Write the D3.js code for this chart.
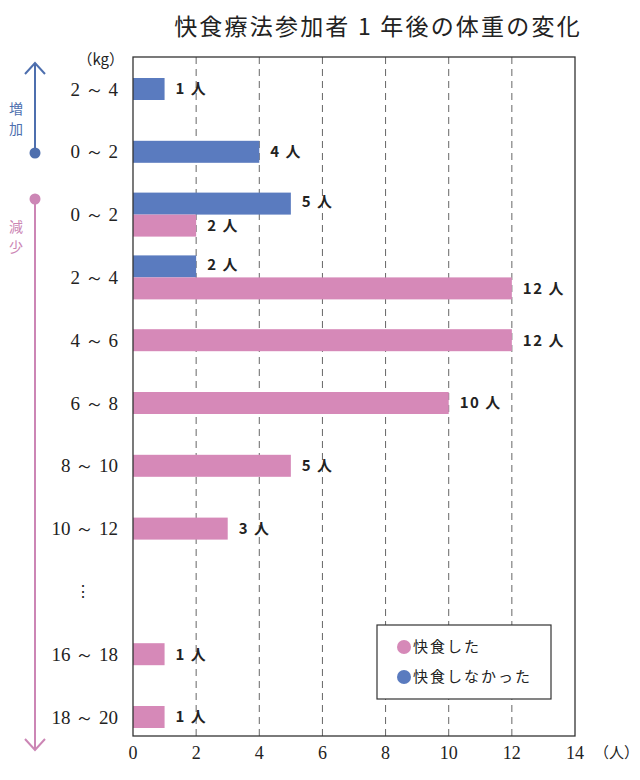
<!DOCTYPE html>
<html><head><meta charset="utf-8">
<script src="https://cdn.jsdelivr.net/npm/d3@7"></script>
<style>body{margin:0;background:#fff}</style>
</head><body>
<script>
const title = "快食療法参加者 1 年後の体重の変化";
const rowLabels = ["2～4","0～2","0～2","2～4","4～6","6～8","8～10","10～12","⋮","16～18","18～20"];
const fastedValues = [null,null,2,12,12,10,5,3,null,1,1];
const notFastedValues = [1,4,5,2,null,null,null,null,null,null,null];
const xTicks = [0,2,4,6,8,10,12,14];
const seriesNames = ["快食した","快食しなかった"];
const colors = {fasted:"#d689b8", notFasted:"#5a7bbf"};

const W=640,H=780;
const svg=d3.select("body").append("svg").attr("width",W).attr("height",H);
const pL=133,pR=575,pT=57,pB=736;
const jp="'Noto Sans CJK JP', sans-serif";
const serif="'Liberation Serif','DejaVu Serif', serif";

const x=d3.scaleLinear().domain([0,14]).range([pL,pR]);
const y=d3.scalePoint().domain(d3.range(rowLabels.length)).range([89,717]);
const bh=22;

// title
svg.append("text").attr("x",378).attr("y",35).attr("text-anchor","middle")
  .attr("font-family",jp).attr("font-size",23).attr("fill","#222").attr("letter-spacing",2.2).text(title);

// grid
svg.append("g").selectAll("line").data(xTicks.filter(t=>t>0&&t<14)).join("line")
  .attr("x1",d=>x(d)).attr("x2",d=>x(d)).attr("y1",pT).attr("y2",pB)
  .attr("stroke","#666").attr("stroke-width",1).attr("stroke-dasharray","7,5");

// bars
const bars=svg.append("g");
function lbl(v,yc){
  svg.append("text").attr("x",x(v)+11).attr("y",yc).attr("dy","0.36em")
    .attr("font-family",jp).attr("font-weight","bold").attr("font-size",15).attr("letter-spacing",1.5).attr("fill","#222").text(v+" 人");
}
rowLabels.forEach((lab,i)=>{
  const f=fastedValues[i], n=notFastedValues[i];
  const both = f!=null && n!=null;
  if(n!=null){
    const y0 = both ? y(i)-bh : y(i)-bh/2;
    bars.append("rect").attr("x",x(0)).attr("y",y0).attr("width",x(n)-x(0)).attr("height",bh).attr("fill",colors.notFasted);
    lbl(n,y0+bh/2-(both?2:0));
  }
  if(f!=null){
    const y0 = both ? y(i) : y(i)-bh/2;
    bars.append("rect").attr("x",x(0)).attr("y",y0).attr("width",x(f)-x(0)).attr("height",bh).attr("fill",colors.fasted);
    lbl(f,y0+bh/2);
  }
});

// frame
svg.append("rect").attr("x",pL).attr("y",pT).attr("width",pR-pL).attr("height",pB-pT)
  .attr("fill","none").attr("stroke","#333").attr("stroke-width",1.3);

// row labels
svg.append("g").selectAll("text").data(rowLabels).join("text")
  .attr("x",(d)=>d==="⋮"?83:118).attr("y",(d,i)=>y(i)).attr("dy","0.35em")
  .attr("text-anchor",d=>d==="⋮"?"middle":"end")
  .attr("font-family",d=>d==="⋮"?jp:serif).attr("font-size",d=>d==="⋮"?16:19).attr("fill","#222")
  .text(d=>d.replace("～"," ～ "));

// x tick labels
svg.append("g").selectAll("text").data(xTicks).join("text")
  .attr("x",d=>x(d)).attr("y",759).attr("text-anchor","middle")
  .attr("font-family",serif).attr("font-size",18).attr("fill","#222").text(d=>d);
svg.append("text").attr("x",x(14)+19).attr("y",758).attr("font-family",jp).attr("font-size",15).attr("fill","#222").text("（人）");
svg.append("text").attr("x",124).attr("y",65).attr("text-anchor","end").attr("font-family",jp).attr("font-size",15).attr("fill","#222").text("（kg）");

// left arrows
const blueA="#4e6fae", pinkA="#cc86b5";
svg.append("line").attr("x1",35).attr("x2",35).attr("y1",64).attr("y2",153).attr("stroke",blueA).attr("stroke-width",2);
svg.append("path").attr("d","M25,74 L35,63 L45,74").attr("fill","none").attr("stroke",blueA).attr("stroke-width",2);
svg.append("circle").attr("cx",35).attr("cy",153).attr("r",5.5).attr("fill",blueA);
svg.append("text").attr("x",16).attr("y",114).attr("text-anchor","middle").attr("font-family",jp).attr("font-size",14).attr("fill",blueA).text("増");
svg.append("text").attr("x",16).attr("y",134).attr("text-anchor","middle").attr("font-family",jp).attr("font-size",14).attr("fill",blueA).text("加");

svg.append("line").attr("x1",35).attr("x2",35).attr("y1",199).attr("y2",749).attr("stroke",pinkA).attr("stroke-width",2);
svg.append("path").attr("d","M25,739 L35,750 L45,739").attr("fill","none").attr("stroke",pinkA).attr("stroke-width",2);
svg.append("circle").attr("cx",35).attr("cy",199).attr("r",5.5).attr("fill",pinkA);
svg.append("text").attr("x",16).attr("y",232).attr("text-anchor","middle").attr("font-family",jp).attr("font-size",14).attr("fill",pinkA).text("減");
svg.append("text").attr("x",16).attr("y",252).attr("text-anchor","middle").attr("font-family",jp).attr("font-size",14).attr("fill",pinkA).text("少");

// legend
const lg=svg.append("g");
lg.append("rect").attr("x",377).attr("y",625).attr("width",174).attr("height",74).attr("fill","#fff").attr("stroke","#333").attr("stroke-width",1.2);
[[seriesNames[0],colors.fasted],[seriesNames[1],colors.notFasted]].forEach((s,i)=>{
  const cy=647+i*30;
  lg.append("circle").attr("cx",404).attr("cy",cy).attr("r",7).attr("fill",s[1]);
  lg.append("text").attr("x",413).attr("y",cy).attr("dy","0.36em").attr("font-family",jp).attr("font-size",15).attr("fill","#222").attr("letter-spacing",2).text(s[0]);
});
</script>
</body></html>
